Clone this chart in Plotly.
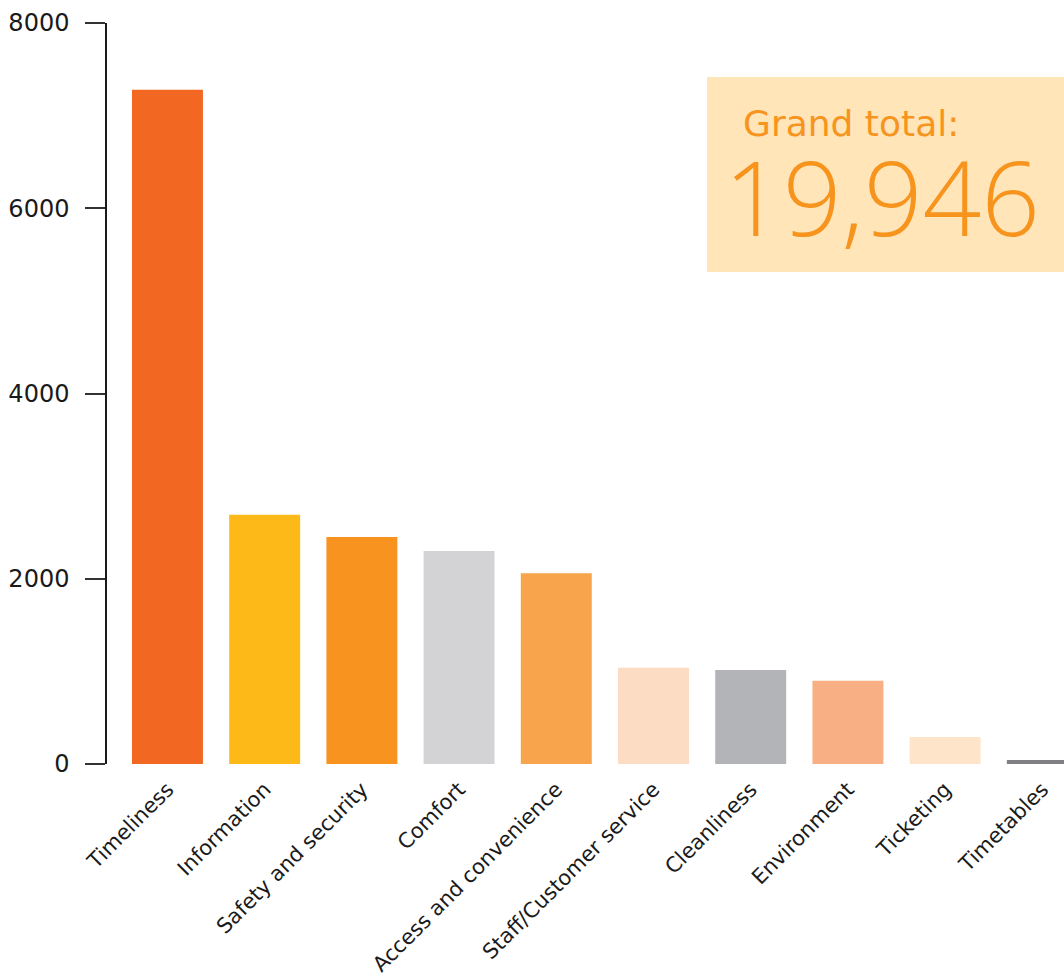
import plotly.graph_objects as go

# Complaint categories and their counts
categories = [
    "Timeliness", "Information", "Safety and security", "Comfort",
    "Access and convenience", "Staff/Customer service", "Cleanliness",
    "Environment", "Ticketing", "Timetables",
]
counts = [7280, 2690, 2450, 2300, 2060, 1040, 1015, 900, 292, 42]
bar_colors = [
    "#F26722", "#FCB918", "#F7931E", "#D3D3D5", "#F8A44C",
    "#FDDCC4", "#B3B4B8", "#F8AF84", "#FEE4C8", "#808084",
]
y_ticks = [0, 2000, 4000, 6000, 8000]
grand_total = "19,946"

FONT = "DejaVu Sans"

fig = go.Figure(
    go.Bar(
        x=categories,
        y=counts,
        marker=dict(color=bar_colors, line=dict(width=0)),
        width=0.73,
        hoverinfo="x+y",
    )
)

fig.update_layout(
    width=1064,
    height=979,
    margin=dict(l=107, r=0, t=23, b=215),
    paper_bgcolor="white",
    plot_bgcolor="white",
    showlegend=False,
    font=dict(family=FONT, color="#1a1a1a"),
    xaxis=dict(
        range=[-0.622, 9.223],
        tickangle=-45,
        showline=False,
        showgrid=False,
        ticks="",
        automargin=False,
        tickfont=dict(size=21, family=FONT, color="#1a1a1a"),
        ticklabelstandoff=8,
    ),
    yaxis=dict(
        range=[0, 8000],
        tickvals=y_ticks,
        ticktext=[str(v) for v in y_ticks],
        showgrid=False,
        zeroline=False,
        showline=True,
        automargin=False,
        linecolor="#1a1a1a",
        linewidth=1.5,
        ticks="outside",
        ticklen=20,
        tickwidth=1.5,
        tickcolor="#333333",
        tickfont=dict(size=24, family=FONT, color="#1a1a1a"),
        ticklabelstandoff=11,
    ),
    shapes=[
        dict(
            type="rect",
            xref="paper", yref="paper",
            x0=0.627, x1=1.05, y0=0.664, y1=0.927,
            fillcolor="#FFE5B8",
            line=dict(width=0),
            layer="below",
        )
    ],
    annotations=[
        dict(
            text="Grand total:",
            xref="paper", yref="paper",
            x=0.662, y=0.865,
            xanchor="left", yanchor="middle",
            showarrow=False,
            font=dict(family=FONT, size=36, color="#F7941D"),
        ),
        dict(
            text=grand_total,
            xref="paper", yref="paper",
            x=0.643, y=0.766,
            xanchor="left", yanchor="middle",
            showarrow=False,
            font=dict(family="Open Sans", size=103, color="#F7941D", weight=300),
        ),
    ],
)

fig.write_html("out.html")
